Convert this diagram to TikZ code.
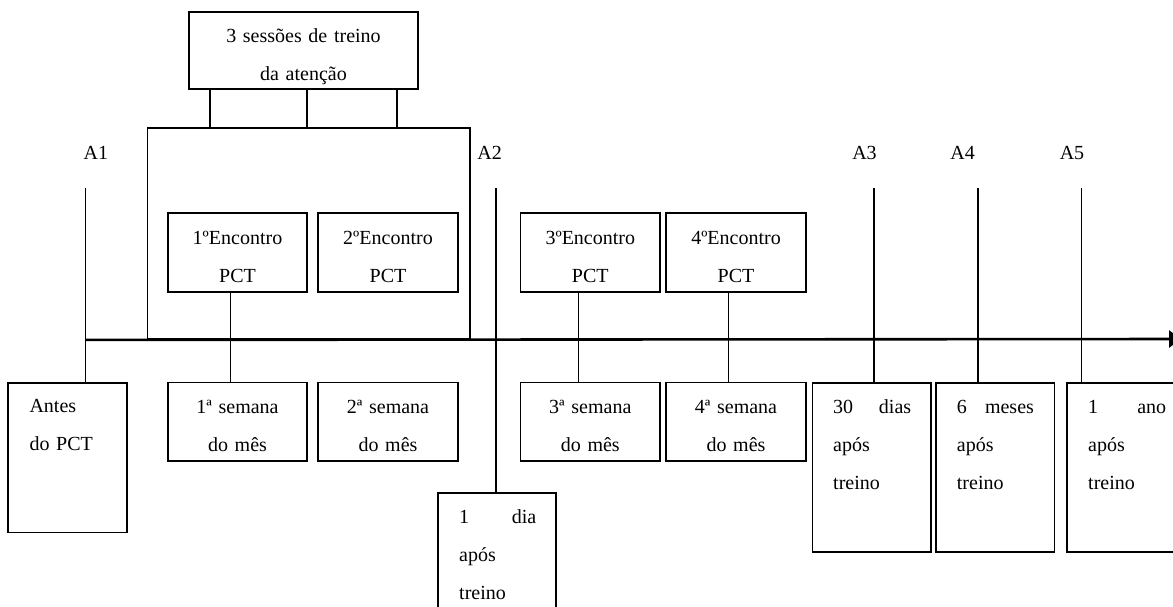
\documentclass[tikz,border=0pt]{standalone}
\usepackage{fontspec}
\setmainfont{Liberation Serif}
\usetikzlibrary{arrows.meta}
\begin{document}
\begin{tikzpicture}[x=1pt,y=-1pt,
  box/.style={draw,line width=1.7pt,rectangle,inner sep=0pt},
  txt/.style={inner sep=0pt,font=\fontsize{20}{38}\selectfont},
  ctxt/.style={txt,anchor=base,align=center},
  ltxt/.style={txt,anchor=base west,align=left},
  conn/.style={line width=1.6pt},
  axisline/.style={line width=2.6pt,-{Triangle[length=12pt,width=17pt]}}]
\clip (0,0) rectangle (1173,606);
\fill[white] (0,0) rectangle (1173,606);

% boxes
\node[box,minimum width=229pt,minimum height=77.4pt] (sess) at (303.5,50.4) {};
\node[box,minimum width=322.5pt,minimum height=211.3pt] (big) at (308.75,233.4) {};
\node[box,minimum width=139.6pt,minimum height=79pt] (enc1) at (237.5,252.5) {};
\node[box,minimum width=139.6pt,minimum height=79pt] (enc2) at (388,252.5) {};
\node[box,minimum width=139.4pt,minimum height=79pt] (enc3) at (590.3,252.5) {};
\node[box,minimum width=139.6pt,minimum height=79pt] (enc4) at (736,252.5) {};
\node[box,minimum width=139.6pt,minimum height=78.5pt] (sem1) at (237.5,421.8) {};
\node[box,minimum width=139.6pt,minimum height=78.5pt] (sem2) at (388,421.8) {};
\node[box,minimum width=139.4pt,minimum height=78.5pt] (sem3) at (590.3,421.8) {};
\node[box,minimum width=139.6pt,minimum height=78.5pt] (sem4) at (736,421.8) {};
\node[box,minimum width=118.4pt,minimum height=149.3pt] (antes) at (67.5,457.7) {};
\node[box,minimum width=118.3pt,minimum height=150pt] (dia) at (496.9,568.3) {};
\node[box,minimum width=118.7pt,minimum height=169pt] (d30) at (871.7,467.2) {};
\node[box,minimum width=118.5pt,minimum height=169pt] (m6) at (995.3,467.2) {};
\node[box,minimum width=119.3pt,minimum height=169pt] (ano) at (1126.3,467.2) {};

% texts
\node[ctxt,text width=229pt] (sesst) at (303.5,42) {3 sessões de treino\\da atenção};
\node[ctxt,text width=139.6pt] (enc1t) at (237.5,244) {1ºEncontro\\PCT};
\node[ctxt,text width=139.6pt] (enc2t) at (388,244) {2ºEncontro\\PCT};
\node[ctxt,text width=139.6pt] (enc3t) at (590.3,244) {3ºEncontro\\PCT};
\node[ctxt,text width=139.6pt] (enc4t) at (736,244) {4ºEncontro\\PCT};
\node[ctxt,text width=139.6pt] (sem1t) at (237.5,413) {1ª semana\\do mês};
\node[ctxt,text width=139.6pt] (sem2t) at (388,413) {2ª semana\\do mês};
\node[ctxt,text width=139.6pt] (sem3t) at (590.3,413) {3ª semana\\do mês};
\node[ctxt,text width=139.6pt] (sem4t) at (736,413) {4ª semana\\do mês};
\node[ltxt,text width=78pt] (antest) at (29.3,412.7) {Antes\\do PCT};
\node[ltxt,text width=77pt] (diat) at (459,523) {1\hfill dia\\após\\treino};
\node[ltxt,text width=78pt] (d30t) at (833,413) {30\hfill dias\\após\\treino};
\node[ltxt,text width=77pt] (m6t) at (956.7,413) {6\hfill meses\\após\\treino};
\node[ltxt,text width=78pt] (anot) at (1088,413) {1\hfill ano\\após\\treino};

\node[txt,anchor=base] (a1) at (95.9,159) {A1};
\node[txt,anchor=base] (a2) at (489.7,159) {A2};
\node[txt,anchor=base] (a3) at (864.5,159) {A3};
\node[txt,anchor=base] (a4) at (962.7,159) {A4};
\node[txt,anchor=base] (a5) at (1072,159) {A5};

% coordinates
\coordinate (t1) at (85.3,188);
\coordinate (t2) at (496,188);
\coordinate (t3) at (874,188);
\coordinate (t4) at (977.7,188);
\coordinate (t5) at (1081.5,188);
\coordinate (s1) at (210,0);
\coordinate (s2) at (307,0);
\coordinate (s3) at (397,0);
\coordinate (c1) at (230.4,0);
\coordinate (c3) at (578.6,0);
\coordinate (c4) at (728.3,0);
\coordinate (axend) at (1181,339);

% connectors
\draw[conn] (sess.south -| s1) -- (big.north -| s1);
\draw[conn] (sess.south -| s2) -- (big.north -| s2);
\draw[conn] (sess.south -| s3) -- (big.north -| s3);
\draw[conn] (t1) -- (antes.north -| t1);
\draw[conn] (t2) -- (dia.north -| t2);
\draw[conn] (t3) -- (d30.north -| t3);
\draw[conn] (t4) -- (m6.north -| t4);
\draw[conn] (t5) -- (ano.north -| t5);
\draw[conn] (enc1.south -| c1) -- (sem1.north -| c1);
\draw[conn] (enc3.south -| c3) -- (sem3.north -| c3);
\draw[conn] (enc4.south -| c4) -- (sem4.north -| c4);
\draw[axisline] (t1 |- big.south) -- (axend);
\end{tikzpicture}
\end{document}
